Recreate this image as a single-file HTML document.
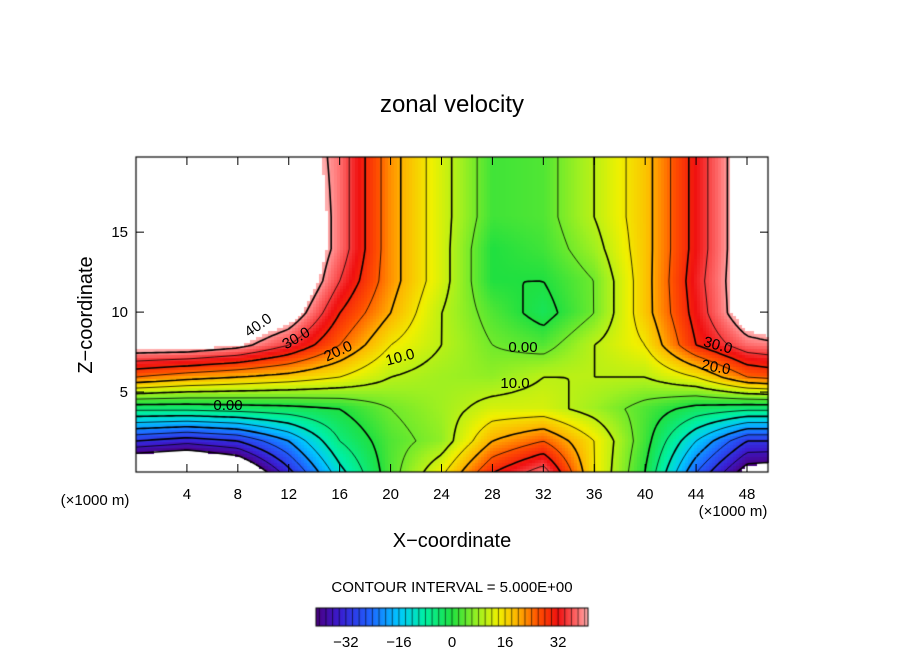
<!DOCTYPE html>
<html><head><meta charset="utf-8"><style>
body{margin:0;background:#fff;width:904px;height:654px;overflow:hidden;position:relative;font-family:"Liberation Sans",sans-serif}
canvas{position:absolute;left:0;top:0}
</style></head><body>
<canvas id="c" width="904" height="654"></canvas>
<svg id="s" width="904" height="654" style="position:absolute;left:0;top:0">
<text x="452" y="112" font-size="24" text-anchor="middle">zonal velocity</text>
<text x="452" y="547" font-size="20" text-anchor="middle">X−coordinate</text>
<text x="92" y="315" font-size="20" text-anchor="middle" transform="rotate(-90 92 315)">Z−coordinate</text>
<text x="95" y="505" font-size="15" text-anchor="middle">(×1000 m)</text>
<text x="733" y="516" font-size="15" text-anchor="middle">(×1000 m)</text>
<text x="452" y="592" font-size="15" text-anchor="middle">CONTOUR INTERVAL = 5.000E+00</text>
<g id="ticks"></g>
</svg>
<script>
// ---- data ----
const xCoords=[0,4,8,12,16,20,24,28,32,36,40,44,48,52];
const zCoords=[0,2,4,6,8,10,12,14,16,18,20];
const row0=[-56,-58,-52,-32,-12,3,14,30,38,15,0,-25,-44,-46];
const row2=[-30,-33,-30,-20,-5,3,7,20,25,15,2,-15,-30,-30];
const row4=[-4,-4,-3,-2,0,5,8,12,12,8,3,-2,-4,-4];
const row6=[25,22,20,18,15,10,8,7,10,10,10,15,25,28];
const row8=[45,45,42,35,25,15,10,5,3,10,15,30,38,40];
const row10=[50,50,50,45,30,20,10,3,-2,5,18,32,45,50];
const row12=[50,50,50,50,35,22,12,0,0,5,18,33,45,50];
const row14=[50,50,50,50,38,22,12,0,2,8,18,32,45,50];
const row16=[50,50,50,50,38,22,12,2,3,10,18,32,45,50];
const row18=[50,50,50,48,38,22,12,2,3,10,18,32,45,50];
const row20=[50,50,50,46,38,22,12,2,3,10,18,32,45,50];
const field=[row0,row2,row4,row6,row8,row10,row12,row14,row16,row18,row20];
const xTicks=[4,8,12,16,20,24,28,32,36,40,44,48];
const zTicks=[5,10,15];
const cbTicks=[-32,-16,0,16,32];
// ---- axes ----
const L=136,R=768,T=157,B=472,XMAX=49.65,ZMAX=19.7;
const xs=x=>L+x/XMAX*(R-L), zs=z=>B-z/ZMAX*(B-T);
function val(x,z){
  let i=Math.min(xCoords.length-2,Math.floor(x/4)), j=Math.min(zCoords.length-2,Math.floor(z/2));
  let fx=(x-xCoords[i])/4, fz=(z-zCoords[j])/2;
  return field[j][i]*(1-fx)*(1-fz)+field[j][i+1]*fx*(1-fz)+field[j+1][i]*(1-fx)*fz+field[j+1][i+1]*fx*fz;
}
const stops=[[-41,[75,0,130]],[-34,[58,28,208]],[-25,[32,96,255]],[-16,[0,200,255]],[-8,[0,240,160]],[0,[32,224,64]],[8,[160,240,32]],[14,[240,240,0]],[20,[255,176,0]],[26,[255,80,0]],[32,[240,16,16]],[38,[255,112,112]],[41,[255,176,176]]];
function col(v){
  if(v>41||v<-41)return null;
  for(let k=0;k<stops.length-1;k++){const a=stops[k],b=stops[k+1];
    if(v<=b[0]){const t=(v-a[0])/(b[0]-a[0]);return a[1].map((c,m)=>Math.round(c+(b[1][m]-c)*t));}}
  return stops[stops.length-1][1];
}
const ctx=document.getElementById('c').getContext('2d');
const S=3;
for(let px=L;px<R;px+=S)for(let py=T;py<B;py+=S){
  const x=(px+S/2-L)/(R-L)*XMAX, z=(B-py-S/2)/(B-T)*ZMAX;
  const c=col(val(x,z)); if(!c)continue;
  ctx.fillStyle=`rgb(${c})`;ctx.fillRect(px,py,S,S);
}
// contours via marching squares
const G=4,nx=Math.ceil((R-L)/G),nz=Math.ceil((B-T)/G);
const grid=[];
for(let j=0;j<=nz;j++){grid[j]=[];for(let i=0;i<=nx;i++){grid[j][i]=val(Math.min(XMAX,i*G/(R-L)*XMAX),Math.min(ZMAX,(nz-j)*G/(B-T)*ZMAX));}}
ctx.save();ctx.beginPath();ctx.rect(L,T,R-L,B-T);ctx.clip();
for(let lev=-40;lev<=40;lev+=5){
  ctx.beginPath();
  for(let j=0;j<nz;j++)for(let i=0;i<nx;i++){
    const c=[grid[j][i],grid[j][i+1],grid[j+1][i+1],grid[j+1][i]];
    const p=[[i,j],[i+1,j],[i+1,j+1],[i,j+1]];
    const pts=[];
    for(let e=0;e<4;e++){const a=c[e],b=c[(e+1)%4];
      if((a<lev)!==(b<lev)){const t=(lev-a)/(b-a);pts.push([p[e][0]+(p[(e+1)%4][0]-p[e][0])*t,p[e][1]+(p[(e+1)%4][1]-p[e][1])*t]);}}
    for(let k=0;k+1<pts.length;k+=2){ctx.moveTo(L+pts[k][0]*G,T+pts[k][1]*G);ctx.lineTo(L+pts[k+1][0]*G,T+pts[k+1][1]*G);}
  }
  ctx.setLineDash(lev<0?[5,4]:[]);
  ctx.lineWidth=(lev%10===0)?1.6:0.8;ctx.strokeStyle='#000';ctx.stroke();
}
ctx.restore();ctx.setLineDash([]);
ctx.lineWidth=1.2;ctx.strokeStyle='#000';ctx.strokeRect(L,T,R-L,B-T);
// colorbar
const CL=316,CR=588,CT=608,CB=626,VMIN=-41,VMAX=41;
const cbs=v=>CL+(v-VMIN)/(VMAX-VMIN)*(CR-CL);
for(let px=CL;px<CR;px++){const c=col(VMIN+(px-CL+0.5)/(CR-CL)*(VMAX-VMIN));ctx.fillStyle=`rgb(${c})`;ctx.fillRect(px,CT,1,CB-CT);}
ctx.strokeStyle='#000';ctx.lineWidth=0.6;
for(let v=-40;v<=40;v+=2){ctx.beginPath();ctx.moveTo(cbs(v),CT);ctx.lineTo(cbs(v),CB);ctx.stroke();}
ctx.lineWidth=1;ctx.strokeRect(CL,CT,CR-CL,CB-CT);
// ticks
const NS='http://www.w3.org/2000/svg',g=document.getElementById('ticks');
function add(tag,attrs,txt){const e=document.createElementNS(NS,tag);for(const k in attrs)e.setAttribute(k,attrs[k]);if(txt!==undefined)e.textContent=txt;g.appendChild(e);return e;}
xTicks.forEach(v=>{
  const l=add('line',{x1:xs(v),x2:xs(v),y1:B,y2:B-8,stroke:'#000'});
  
  
  const l2=add('line',{x1:xs(v),x2:xs(v),y1:T,y2:T+8,stroke:'#000'});
  
  
  const t=add('text',{x:xs(v),y:499,'font-size':15,'text-anchor':'middle'},String(v));
  
  
});
zTicks.forEach(v=>{
  const l=add('line',{x1:L,x2:L+8,y1:zs(v),y2:zs(v),stroke:'#000'});
  
  
  const l2=add('line',{x1:R,x2:R-8,y1:zs(v),y2:zs(v),stroke:'#000'});
  
  
  const t=add('text',{x:L-8,y:zs(v)+5,'font-size':15,'text-anchor':'end'},String(v));
  
  
});
cbTicks.forEach(v=>{
  const t=add('text',{x:cbs(v),y:647,'font-size':15,'text-anchor':'middle'},v<0?'−'+Math.abs(v):String(v));
  
  
});
const labels=[['40.0',258,330,-35],['30.0',296,343,-30],['20.0',338,356,-25],['10.0',400,362,-15],['0.00',228,410,0],['0.00',523,352,0],['10.0',515,388,0],['30.0',718,350,15],['20.0',716,372,10]];
labels.forEach(a=>{
  const t=add('text',{x:a[1],y:a[2],'font-size':15,'text-anchor':'middle',transform:`rotate(${a[3]} ${a[1]} ${a[2]-5})`},a[0]);
  
  
});
</script>
</body></html>
